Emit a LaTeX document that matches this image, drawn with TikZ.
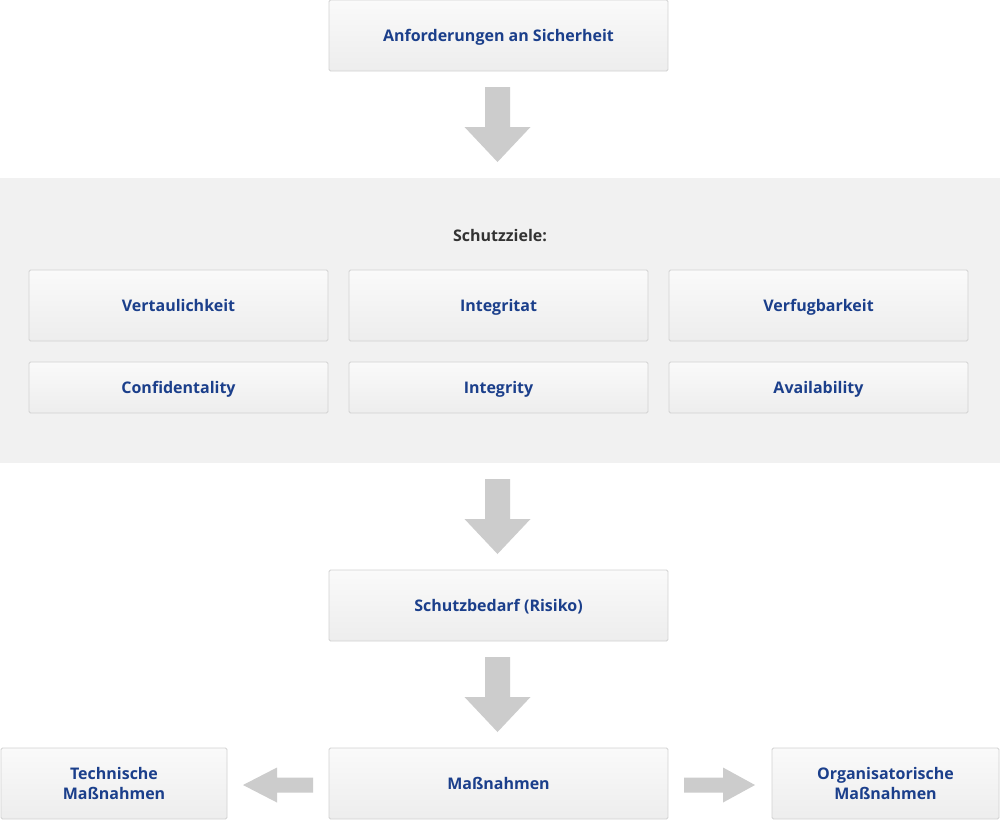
\documentclass[tikz,border=0pt]{standalone}
\usepackage{fontspec}
\setmainfont{Open Sans}
\definecolor{boxline}{HTML}{D2D2D2}
\definecolor{boxtop}{HTML}{FAFAFA}
\definecolor{boxbot}{HTML}{EDEDED}
\definecolor{textblue}{HTML}{1B3F8B}
\definecolor{arrowgray}{HTML}{CCCCCC}
\definecolor{band}{HTML}{F1F1F1}
\definecolor{dark}{HTML}{333333}
\begin{document}
\begin{tikzpicture}[x=1pt,y=-1pt,
  boxbase/.style={draw=boxline,line width=0.8pt,rounded corners=1.5pt,top color=boxtop,bottom color=boxbot,
    font=\bfseries\fontsize{16}{20}\selectfont,text=textblue,align=center,inner sep=0pt},
  box/.style={boxbase,text height=11.5pt,text depth=0pt},
  box2/.style={boxbase},
  bigarrow/.style={fill=arrowgray,draw=none}]
\useasboundingbox (0,0) rectangle (1000,820);
\fill[white] (0,0) rectangle (1000,820);
\fill[band] (0,178) rectangle (1000,463);
% boxes
\node[box,minimum width=339pt,minimum height=71pt] (req) at (498.5,35.5) {Anforderungen an Sicherheit};
\node[font=\bfseries\fontsize{16}{20}\selectfont,text=dark,text height=11.5pt,text depth=0pt,inner sep=0pt] (sz) at (500,235.5) {Schutzziele:};
\node[box,minimum width=299pt,minimum height=71pt] (v) at (178.5,305.5) {Vertaulichkeit};
\node[box,minimum width=299pt,minimum height=71pt] (i) at (498.5,305.5) {Integritat};
\node[box,minimum width=299pt,minimum height=71pt] (a) at (818.5,305.5) {Verfugbarkeit};
\node[box,minimum width=299pt,minimum height=51pt] (c) at (178.5,387.5) {Confidentality};
\node[box,minimum width=299pt,minimum height=51pt] (ig) at (498.5,387.5) {Integrity};
\node[box,minimum width=299pt,minimum height=51pt] (av) at (818.5,387.5) {Availability};
\node[box,minimum width=339pt,minimum height=71pt] (sb) at (498.5,605.5) {Schutzbedarf (Risiko)};
\node[box,minimum width=339pt,minimum height=71pt] (m) at (498.5,783.5) {Maßnahmen};
\node[box2,minimum width=226pt,minimum height=71pt] (t) at (114,783.5) {Technische\\Maßnahmen};
\node[box2,minimum width=227pt,minimum height=71pt] (o) at (885.5,783.5) {Organisatorische\\Maßnahmen};
% arrows
\coordinate (a1) at (497.5,87);
\coordinate (a2) at (497.5,479);
\coordinate (a3) at (497.5,657);
\foreach \c in {a1,a2,a3}{
  \fill[bigarrow] (\c) ++(-12.5,0) -- ++(25,0) -- ++(0,40) -- ++(20.5,0) -- ++(-33,35) -- ++(-33,-35) -- ++(20.5,0) -- cycle;
}
\coordinate (l1) at (313,785);
\fill[bigarrow] (l1) ++(0,-7.5) -- ++(-36,0) -- ++(0,-10) -- ++(-34,17.5) -- ++(34,17.5) -- ++(0,-10) -- ++(36,0) -- cycle;
\coordinate (r1) at (684,785);
\fill[bigarrow] (r1) ++(0,-7.5) -- ++(39,0) -- ++(0,-10) -- ++(32,17.5) -- ++(-32,17.5) -- ++(0,-10) -- ++(-39,0) -- cycle;
\end{tikzpicture}
\end{document}
